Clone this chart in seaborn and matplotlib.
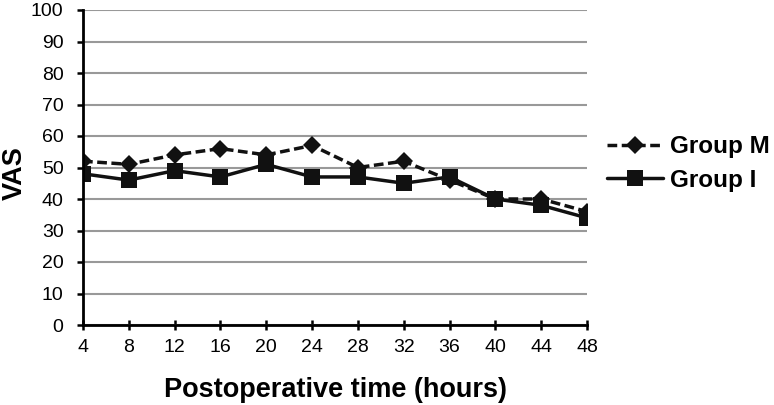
import matplotlib
matplotlib.use("Agg")
import matplotlib.pyplot as plt
import seaborn as sns
import pandas as pd

hours = [4, 8, 12, 16, 20, 24, 28, 32, 36, 40, 44, 48]
group_m = [52, 51, 54, 56, 54, 57, 50, 52, 46, 40, 40, 36]
group_i = [48, 46, 49, 47, 51, 47, 47, 45, 47, 40, 38, 34]
y_ticks = [0, 10, 20, 30, 40, 50, 60, 70, 80, 90, 100]

sns.set_theme(style="white")
plt.rcParams['font.family'] = ['Liberation Sans', 'DejaVu Sans']

W, H = 774, 405
fig = plt.figure(figsize=(W / 100, H / 100), dpi=100)
ax_l, ax_r, ax_t, ax_b = 83, 587, 10, 325
ax = fig.add_axes([ax_l / W, (H - ax_b) / H, (ax_r - ax_l) / W, (ax_b - ax_t) / H])

df_m = pd.DataFrame({"hours": hours, "VAS": group_m})
df_i = pd.DataFrame({"hours": hours, "VAS": group_i})

sns.lineplot(data=df_m, x="hours", y="VAS", ax=ax, color="#111111", linewidth=2.5,
             marker="D", markersize=9.5, markeredgewidth=0, label="Group M", zorder=3)
ax.lines[-1].set_dashes((2.8, 1.3))
sns.lineplot(data=df_i, x="hours", y="VAS", ax=ax, color="#111111", linewidth=2.5,
             marker="s", markersize=12, markeredgewidth=0, label="Group I", zorder=4)

ax.set_xlim(4, 48)
ax.set_ylim(0, 100)
ax.set_xticks(hours)
ax.set_yticks(y_ticks)
ax.grid(axis="y", color="#999999", linewidth=1.5)
ax.grid(axis="x", visible=False)
ax.set_axisbelow(True)

for s in ["top", "right"]:
    ax.spines[s].set_visible(False)
for s in ["left", "bottom"]:
    ax.spines[s].set_color("black")
    ax.spines[s].set_linewidth(2.0)
    ax.spines[s].set_zorder(5)

ax.tick_params(axis="y", direction="out", length=4, width=1.8, color="black",
               labelsize=14, labelcolor="black", pad=10, left=True)
ax.tick_params(axis="x", direction="inout", length=7.5, width=1.8, color="black",
               labelsize=14, labelcolor="black", pad=6, bottom=True)

ax.set_xlabel("Postoperative time (hours)", fontsize=19.5, fontweight="bold", color="black")
ax.xaxis.label.set_va("baseline")
ax.xaxis.set_label_coords(0.5, (8 - (H - ax_b)) / (ax_b - ax_t))
ax.set_ylabel("VAS", fontsize=19.5, fontweight="bold", color="black")
ax.yaxis.set_label_coords((28 - ax_l) / (ax_r - ax_l), (ax_b - 173) / (ax_b - ax_t))

leg = ax.legend(loc="center left", bbox_to_anchor=(607 / W, 1 - 163.5 / H),
                bbox_transform=fig.transFigure, frameon=False,
                prop={"weight": "bold", "size": 17.5}, handlelength=2.3,
                labelspacing=0.45, handletextpad=0.3, borderpad=0, borderaxespad=0)
for t in leg.get_texts():
    t.set_color("black")

fig.savefig("out.png", dpi=100)
